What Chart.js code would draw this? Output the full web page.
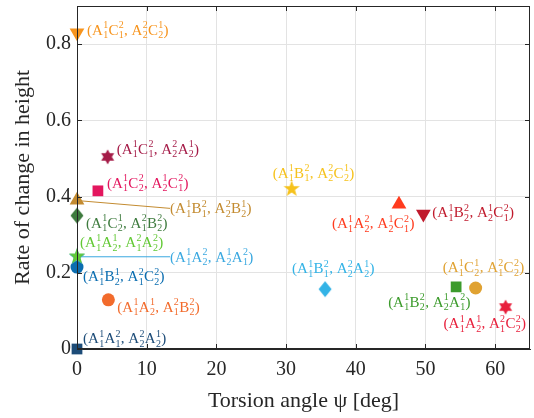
<!DOCTYPE html>
<html>
<head>
<meta charset="utf-8">
<script src="https://cdn.jsdelivr.net/npm/chart.js@4"></script>
<style>
  html, body { margin: 0; padding: 0; background: #fff; }
  #wrap { width: 534px; height: 418px; }
</style>
</head>
<body>
<div id="wrap"><canvas id="chart" width="534" height="418"></canvas></div>
<script>
// ===================================
// DATA
// ===================================
const pointLabels = [
  "(A^1_1C^2_1, A^2_2C^1_2)",
  "(A^1_1C^2_1, A^2_2A^1_2)",
  "(A^1_1C^2_2, A^1_2C^2_1)",
  "(A^1_1B^2_1, A^2_2B^1_2)",
  "(A^1_1C^1_2, A^2_1B^2_2)",
  "(A^1_1A^1_2, A^2_1A^2_2)",
  "(A^1_1A^2_2, A^1_2A^2_1)",
  "(A^1_1B^1_2, A^2_1C^2_2)",
  "(A^1_1A^1_2, A^2_1B^2_2)",
  "(A^1_1A^2_1, A^2_2A^1_2)",
  "(A^1_1B^2_1, A^2_2C^1_2)",
  "(A^1_1A^2_2, A^1_2C^2_1)",
  "(A^1_1B^2_2, A^1_2C^2_1)",
  "(A^1_1B^2_1, A^2_2A^1_2)",
  "(A^1_1B^2_2, A^1_2A^2_1)",
  "(A^1_1C^1_2, A^2_1C^2_2)",
  "(A^1_1A^1_2, A^2_1C^2_2)"
];
const torsionAngle = [0, 4.4, 3.0, 0, 0, 0, 0, 0, 4.5, 0, 30.8, 46.2, 49.7, 35.6, 54.4, 57.2, 61.5];
const heightChange = [0.83, 0.504, 0.415, 0.39, 0.35, 0.243, 0.242, 0.215, 0.129, 0.0, 0.42, 0.38, 0.354, 0.157, 0.163, 0.16, 0.11];

const xTicks = [0, 10, 20, 30, 40, 50, 60];
const yTicks = [0, 0.2, 0.4, 0.6, 0.8];

// ===================================
// STYLES
// ===================================
const pointColors = [
  "#F7941D", "#A51C48", "#E3165E", "#C38B30", "#3E7B3E", "#62C934", "#3AA8E0",
  "#0A6DB0", "#F26B2C", "#1D4C78", "#F6C21C", "#FF3B1E", "#C01A2C", "#33B3E6",
  "#3C9B2C", "#E0A232", "#E8203C"
];
const markerShapes = [
  "triDown", "hex", "rect", "triUp", "diamond", "star", "star",
  "circle", "circle", "rect", "star", "triUp", "triDown", "diamond",
  "rect", "circle", "hex"
];
// label offset from marker (left edge, vertical middle), and leader line flag
const labelOffsets = [
  [10, -3, false], [9, -8, false], [9, -8, false], [93, 8, true], [9, 7, false],
  [3, -14, false], [93, 0, true], [6, 9, false], [9, 7, false], [6, -11, false],
  [-19, -16, false], [-67, 19, false], [9, -2, false], [-33, -21, false],
  [-68, 15, false], [-33, -21, false], [-62, 16, false]
];

const serif = "'Liberation Serif', 'DejaVu Serif', serif";
const axisColor = "#262626";

// custom markers drawn on a small canvas
function makeMarker(shape, color) {
  const c = document.createElement("canvas");
  const s = 20;
  c.width = s; c.height = s;
  const g = c.getContext("2d");
  g.fillStyle = color;
  g.beginPath();
  const cx = s / 2, cy = s / 2;
  if (shape === "star") {
    for (let i = 0; i < 10; i++) {
      const r = i % 2 === 0 ? 8.5 : 3.5;
      const a = -Math.PI / 2 + i * Math.PI / 5;
      g.lineTo(cx + r * Math.cos(a), cy + r * Math.sin(a));
    }
  } else if (shape === "hex") {
    for (let i = 0; i < 12; i++) {
      const r = i % 2 === 0 ? 7.5 : 4.2;
      const a = -Math.PI / 2 + i * Math.PI / 6;
      g.lineTo(cx + r * Math.cos(a), cy + r * Math.sin(a));
    }
  } else if (shape === "diamond") {
    g.moveTo(cx, cy - 8);
    g.lineTo(cx + 6.5, cy);
    g.lineTo(cx, cy + 8);
    g.lineTo(cx - 6.5, cy);
  }
  g.closePath();
  g.fill();
  return c;
}

function pointStyleFor(shape, color) {
  if (shape === "circle") return { style: "circle", radius: 6.5, rotation: 0 };
  if (shape === "rect") return { style: "rect", radius: 7.6, rotation: 0 };
  if (shape === "triUp") return { style: "triangle", radius: 8.5, rotation: 0 };
  if (shape === "triDown") return { style: "triangle", radius: 8.5, rotation: 180 };
  return { style: makeMarker(shape, color), radius: 8, rotation: 0 };
}

const datasets = pointLabels.map((lab, i) => {
  const ps = pointStyleFor(markerShapes[i], pointColors[i]);
  return {
    label: lab,
    data: [{ x: torsionAngle[i], y: heightChange[i] }],
    pointStyle: ps.style,
    pointRadius: ps.radius,
    pointRotation: ps.rotation,
    backgroundColor: pointColors[i],
    borderColor: pointColors[i],
    borderWidth: 0,
    clip: false
  };
});

// ===================================
// LABEL DRAWING (stacked super/subscripts)
// ===================================
function parseAtoms(str) {
  const atoms = [];
  for (let k = 0; k < str.length; k++) {
    const ch = str[k];
    if ((ch === "^" || ch === "_") && atoms.length) {
      const nxt = str[++k];
      if (ch === "^") atoms[atoms.length - 1].sup = nxt;
      else atoms[atoms.length - 1].sub = nxt;
    } else {
      atoms.push({ base: ch, sup: "", sub: "" });
    }
  }
  return atoms;
}

function drawMathText(ctx, str, x, y, color) {
  const baseSize = 15, scriptSize = 10;
  const baseline = y + 5;
  ctx.fillStyle = color;
  ctx.textBaseline = "alphabetic";
  ctx.textAlign = "left";
  let cx = x;
  parseAtoms(str).forEach(a => {
    ctx.font = baseSize + "px " + serif;
    ctx.fillText(a.base, cx, baseline);
    cx += ctx.measureText(a.base).width;
    if (a.sup || a.sub) {
      ctx.font = scriptSize + "px " + serif;
      const w = Math.max(ctx.measureText(a.sup).width, ctx.measureText(a.sub).width);
      if (a.sup) ctx.fillText(a.sup, cx + 0.3, baseline - 6.5);
      if (a.sub) ctx.fillText(a.sub, cx + 0.3, baseline + 3.5);
      cx += w + 0.6;
    }
  });
}

const labelPlugin = {
  id: "pointLabels",
  beforeDatasetsDraw(chart) {
    const ctx = chart.ctx;
    ctx.save();
    chart.data.datasets.forEach((ds, i) => {
      const off = labelOffsets[i];
      if (!off[2]) return;
      const el = chart.getDatasetMeta(i).data[0];
      ctx.strokeStyle = pointColors[i];
      ctx.lineWidth = 1;
      ctx.beginPath();
      ctx.moveTo(el.x - 2, el.y);
      ctx.lineTo(el.x + off[0], el.y + off[1]);
      ctx.stroke();
    });
    ctx.restore();
  },
  afterDatasetsDraw(chart) {
    const ctx = chart.ctx;
    ctx.save();
    chart.data.datasets.forEach((ds, i) => {
      const el = chart.getDatasetMeta(i).data[0];
      const off = labelOffsets[i];
      drawMathText(ctx, ds.label, el.x + off[0], el.y + off[1], pointColors[i]);
    });
    ctx.restore();
  }
};

// box + inward ticks
const framePlugin = {
  id: "frame",
  afterDraw(chart) {
    const { ctx, chartArea: a, scales } = chart;
    ctx.save();
    ctx.strokeStyle = axisColor;
    ctx.lineWidth = 1;
    ctx.strokeRect(a.left + 0.5, a.top + 0.5, a.right - a.left - 1, a.bottom - a.top - 1);
    ctx.beginPath();
    xTicks.forEach(v => {
      const px = Math.round(scales.x.getPixelForValue(v)) + 0.5;
      ctx.moveTo(px, a.bottom); ctx.lineTo(px, a.bottom - 5);
      ctx.moveTo(px, a.top); ctx.lineTo(px, a.top + 5);
    });
    yTicks.forEach(v => {
      const py = Math.round(scales.y.getPixelForValue(v)) + 0.5;
      ctx.moveTo(a.left, py); ctx.lineTo(a.left + 5, py);
      ctx.moveTo(a.right, py); ctx.lineTo(a.right - 5, py);
    });
    ctx.stroke();
    ctx.restore();
  }
};

// ===================================
// CHART
// ===================================
new Chart(document.getElementById("chart"), {
  type: "scatter",
  data: { datasets },
  plugins: [labelPlugin, framePlugin],
  options: {
    responsive: false,
    animation: false,
    layout: { autoPadding: false, padding: { left: 0, right: 4, top: 6, bottom: 0 } },
    plugins: { legend: { display: false }, tooltip: { enabled: false } },
    scales: {
      x: {
        type: "linear",
        min: 0,
        max: 65,
        afterBuildTicks: s => { s.ticks = xTicks.map(v => ({ value: v })); },
        afterFit: s => { s.height = 69; s.paddingLeft = 0; s.paddingRight = 0; },
        grid: { color: "#e3e3e3", drawTicks: false },
        border: { color: axisColor },
        ticks: { font: { family: serif, size: 20 }, color: axisColor, padding: 9, maxRotation: 0 },
        title: {
          display: true,
          text: "Torsion angle ψ [deg]",
          font: { family: serif, size: 22 },
          color: axisColor,
          padding: { top: 0, bottom: 4 }
        }
      },
      y: {
        type: "linear",
        min: 0,
        max: 0.9,
        afterBuildTicks: s => { s.ticks = yTicks.map(v => ({ value: v })); },
        afterFit: s => { s.width = 77; s.paddingTop = 0; s.paddingBottom = 0; },
        grid: { color: "#e3e3e3", drawTicks: false },
        border: { color: axisColor },
        ticks: {
          font: { family: serif, size: 20 },
          color: axisColor,
          padding: 6,
          callback: v => (v === 0 ? "0" : v.toFixed(1))
        },
        title: {
          display: true,
          text: "Rate of change in height",
          font: { family: serif, size: 22 },
          color: axisColor,
          padding: { top: 10, bottom: 0 }
        }
      }
    }
  }
});
</script>
</body>
</html>
